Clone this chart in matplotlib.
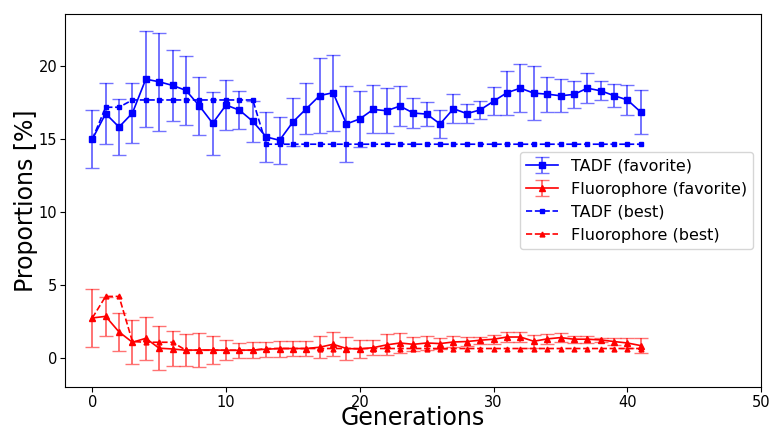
import numpy as np
import matplotlib
matplotlib.use("Agg")
import matplotlib.pyplot as plt

generations = list(range(42))

tadf_fav = [15.0, 16.76, 15.84, 16.8, 19.13, 18.95, 18.7, 18.36, 17.3, 16.1,
            17.35, 17.0, 16.23, 15.16, 14.93, 16.19, 17.1, 18.0, 18.2, 16.05,
            16.4, 17.05, 16.96, 17.28, 16.8, 16.73, 16.05, 17.1, 16.76, 17.02,
            17.62, 18.2, 18.51, 18.17, 18.1, 17.99, 18.08, 18.51, 18.33, 18.0,
            17.7, 16.87]
tadf_err = [2.0, 2.1, 1.9, 2.05, 3.3, 3.35, 2.45, 2.35, 2.0, 2.15,
            1.7, 1.3, 1.4, 1.7, 1.6, 1.65, 1.75, 2.55, 2.6, 2.6,
            1.95, 1.65, 1.55, 1.4, 1.05, 0.8, 0.95, 1.0, 0.65, 0.6,
            0.95, 1.5, 1.65, 1.85, 1.2, 1.15, 0.9, 1.05, 0.65, 0.8,
            1.0, 1.5]

fluo_fav = [2.72, 2.83, 1.76, 1.05, 1.32, 0.64, 0.59, 0.5, 0.52, 0.52,
            0.5, 0.5, 0.52, 0.57, 0.62, 0.62, 0.62, 0.71, 0.91, 0.62,
            0.59, 0.68, 0.87, 1.0, 0.91, 1.0, 0.96, 1.07, 1.1, 1.19,
            1.26, 1.41, 1.41, 1.12, 1.28, 1.37, 1.26, 1.26, 1.21, 1.1,
            1.0, 0.82]
fluo_err = [2.0, 1.35, 1.3, 1.5, 1.5, 1.5, 1.2, 1.1, 1.2, 0.95,
            0.7, 0.5, 0.55, 0.5, 0.55, 0.5, 0.5, 0.75, 0.83, 0.77,
            0.6, 0.5, 0.72, 0.68, 0.48, 0.45, 0.4, 0.38, 0.28, 0.23,
            0.32, 0.35, 0.35, 0.45, 0.33, 0.3, 0.23, 0.25, 0.15, 0.26,
            0.33, 0.54]

tadf_best = [15.0, 17.2, 17.2] + [17.7] * 10 + [14.66] * 29
fluo_best = [2.72, 4.2, 4.2, 1.1, 1.05, 1.05, 1.05] + [0.5] * 6 + [0.62] * 29

fig = plt.figure(figsize=(7.72, 4.3), dpi=100)
ax = fig.add_axes([0.084, 0.1, 0.902, 0.867])

h1 = ax.errorbar(generations, tadf_fav, yerr=tadf_err, color='blue', marker='s',
                 markersize=5, linewidth=1.2, capsize=5, elinewidth=1.4,
                 ecolor=(0, 0, 1, 0.55), label='TADF (favorite)')
h2 = ax.errorbar(generations, fluo_fav, yerr=fluo_err, color='red', marker='^',
                 markersize=4.5, linewidth=1.2, capsize=5, elinewidth=1.4,
                 ecolor=(1, 0, 0, 0.55), label='Fluorophore (favorite)')
h3, = ax.plot(generations, tadf_best, color='blue', linestyle='--', marker='s',
              markersize=3.5, linewidth=1.2, label='TADF (best)')
h4, = ax.plot(generations, fluo_best, color='red', linestyle='--', marker='^',
              markersize=3.5, linewidth=1.2, label='Fluorophore (best)')

ax.set_xlim(right=50)
ax.set_xlabel('Generations', fontsize=17, va='bottom')
ax.set_ylabel('Proportions [%]', fontsize=17)
ax.xaxis.set_label_coords(0.5, -0.114)
ax.yaxis.set_label_coords(-0.039, 0.5)
ax.tick_params(labelsize=10.5, pad=2)
ax.legend(handles=[h1, h2, h3, h4], loc='center right', fontsize=11.5)

fig.savefig('out.png', dpi=100)
